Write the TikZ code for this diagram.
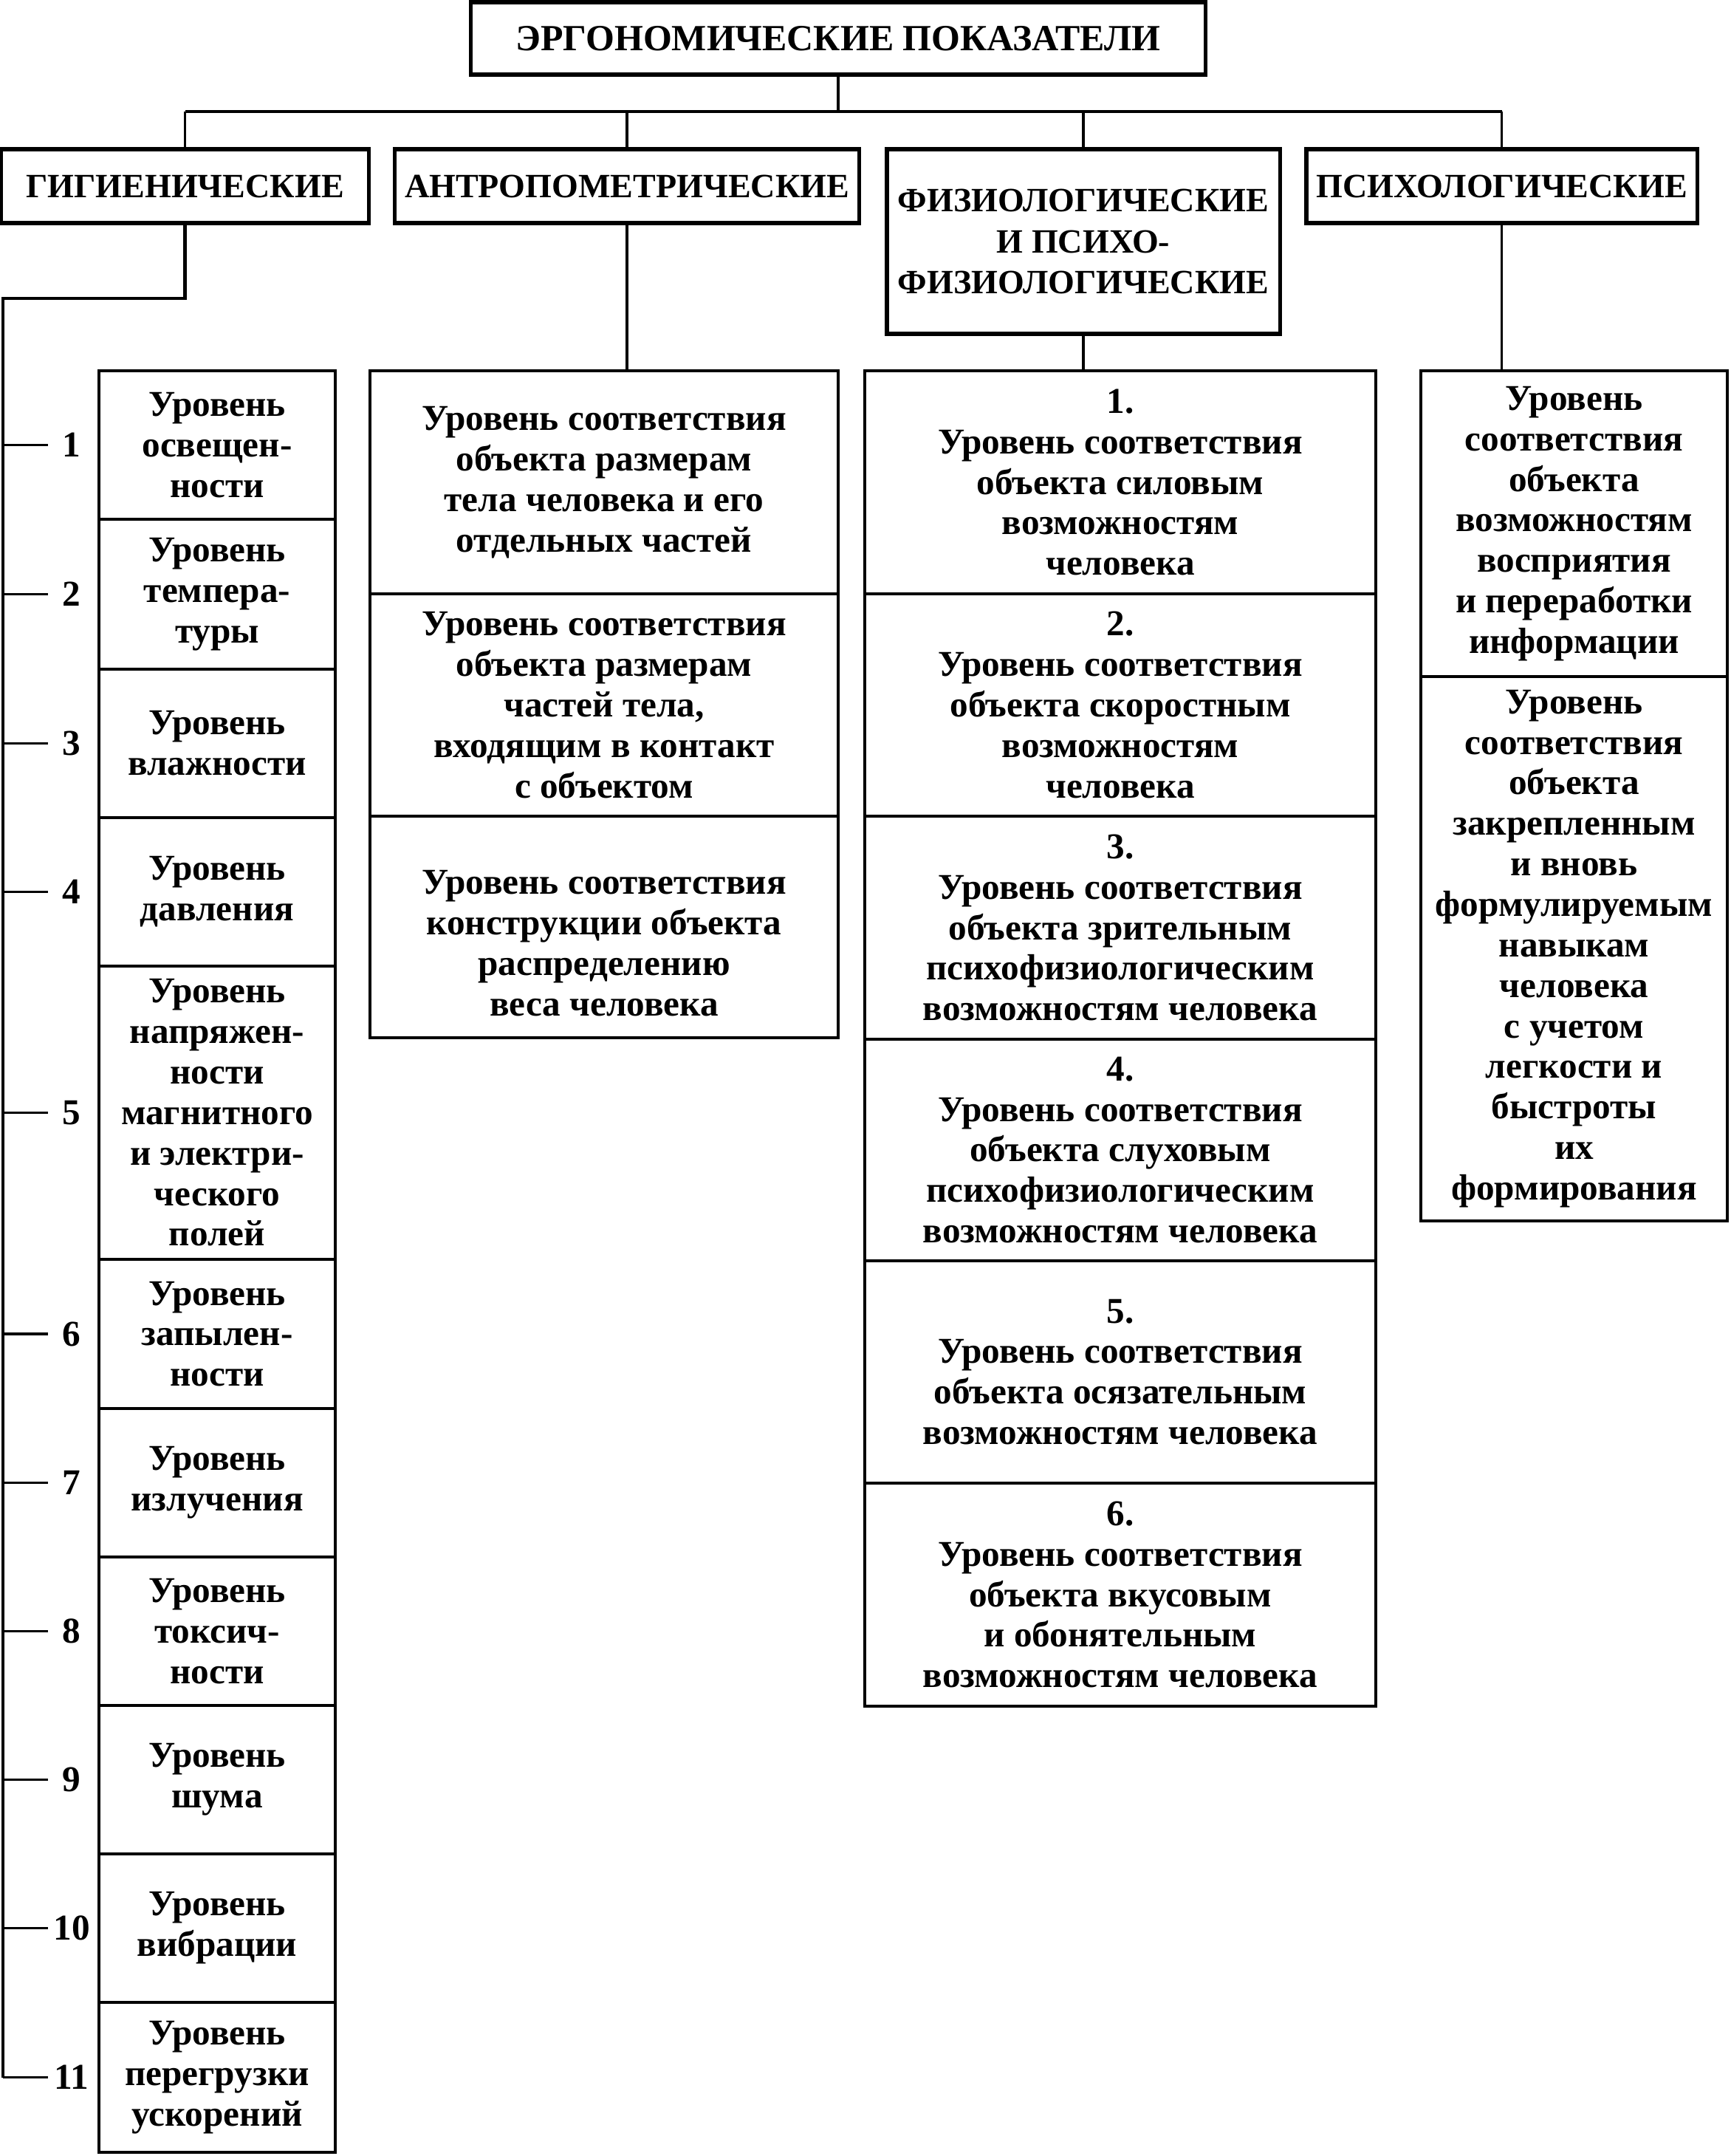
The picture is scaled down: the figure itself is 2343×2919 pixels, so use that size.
\documentclass[tikz,border=0pt]{standalone}
\usepackage{fontspec}
\setmainfont{Liberation Serif}
\begin{document}
\begin{tikzpicture}[x=0.01cm,y=-0.01cm,
  every node/.style={font=\bfseries\fontsize{14}{15.6}\selectfont, align=center, inner sep=1pt},
  hbox/.style={draw, line width=1.5pt, inner sep=0pt, font=\bfseries\fontsize{13.1}{15.8}\selectfont},
  lbox/.style={draw, line width=1.2pt, inner sep=0pt},
  conn/.style={line width=1.1pt}]
\useasboundingbox (0,0) rectangle (2343,2919);
% top
\node[hbox, minimum width=9.94cm, minimum height=0.98cm, font=\bfseries\fontsize{14.2}{16}\selectfont] (top) at (1135,52) {ЭРГОНОМИЧЕСКИЕ ПОКАЗАТЕЛИ};
% headers
\node[hbox, minimum width=4.97cm, minimum height=1.0cm] (hyg) at (250.5,252) {ГИГИЕНИЧЕСКИЕ};
\node[hbox, minimum width=6.29cm, minimum height=1.0cm] (ant) at (849,252) {АНТРОПОМЕТРИЧЕСКИЕ};
\node[hbox, minimum width=5.32cm, minimum height=2.5cm] (phy) at (1467,327) {ФИЗИОЛОГИЧЕСКИЕ\\И ПСИХО-\\ФИЗИОЛОГИЧЕСКИЕ};
\node[hbox, minimum width=5.29cm, minimum height=1.0cm] (psy) at (2033.5,252) {ПСИХОЛОГИЧЕСКИЕ};
% bus
\coordinate (busL) at (250.5,151);
\coordinate (busR) at (2033.5,151);
\draw[conn] (top.south) -- (top.south |- busL);
\draw[conn] (busL) -- (busR);
\draw[conn] (busL) -- (hyg.north);
\draw[conn] (ant.north |- busL) -- (ant.north);
\draw[conn] (phy.north |- busL) -- (phy.north);
\draw[conn] (busR) -- (psy.north);
% hygienic leaves
\foreach \n/\ya/\yb/\txt in {
 1/502/703/{Уровень\\освещен-\\ности},
 2/703/906/{Уровень\\темпера-\\туры},
 3/906/1107/{Уровень\\влажности},
 4/1107/1308/{Уровень\\давления},
 5/1308/1705/{Уровень\\напряжен-\\ности\\магнитного\\и электри-\\ческого\\полей},
 6/1705/1907/{Уровень\\запылен-\\ности},
 7/1907/2108/{Уровень\\излучения},
 8/2108/2309/{Уровень\\токсич-\\ности},
 9/2309/2510/{Уровень\\шума},
 10/2510/2711/{Уровень\\вибрации},
 11/2711/2914/{Уровень\\перегрузки\\ускорений}}{
  \pgfmathsetmacro{\h}{(\yb-\ya)/100}
  \pgfmathsetmacro{\yc}{(\ya+\yb)/2}
  \node[lbox, minimum width=3.2cm, minimum height=\h cm] (g\n) at (294,\yc) {\txt};
  \coordinate (t\n) at (4,\yc);
  \node (num\n) at (97,\yc) {\n};
  \draw[conn] (t\n) -- ++(61,0);
}
\coordinate (hb) at (4,404);
\draw[line width=1.4pt] (hyg.south) |- (hb) -- (t11);
% anthropometric leaves
\node[lbox, minimum width=6.34cm, minimum height=3.02cm] (a1) at (818,653) {Уровень соответствия\\объекта размерам\\тела человека и его\\отдельных частей};
\node[lbox, minimum width=6.34cm, minimum height=3.01cm] (a2) at (818,954.5) {Уровень соответствия\\объекта размерам\\частей тела,\\входящим в контакт\\с объектом};
\node[lbox, minimum width=6.34cm, minimum height=3.0cm] (a3) at (818,1255) {};
\node[inner sep=0pt] (a3t) at ([yshift=-0.22cm]a3.center) {Уровень соответствия\\конструкции объекта\\распределению\\веса человека};
\draw[conn] (ant.south) -- (ant.south |- a1.north);
% physiological leaves
\node[lbox, minimum width=6.92cm, minimum height=3.02cm] (p1) at (1517,653) {1.\\Уровень соответствия\\объекта силовым\\возможностям\\человека};
\node[lbox, minimum width=6.92cm, minimum height=3.01cm] (p2) at (1517,954.5) {2.\\Уровень соответствия\\объекта скоростным\\возможностям\\человека};
\node[lbox, minimum width=6.92cm, minimum height=3.02cm] (p3) at (1517,1256) {3.\\Уровень соответствия\\объекта зрительным\\психофизиологическим\\возможностям человека};
\node[lbox, minimum width=6.92cm, minimum height=3.0cm] (p4) at (1517,1557) {4.\\Уровень соответствия\\объекта слуховым\\психофизиологическим\\возможностям человека};
\node[lbox, minimum width=6.92cm, minimum height=3.01cm] (p5) at (1517,1857.5) {5.\\Уровень соответствия\\объекта осязательным\\возможностям человека};
\node[lbox, minimum width=6.92cm, minimum height=3.02cm] (p6) at (1517,2159) {6.\\Уровень соответствия\\объекта вкусовым\\и обонятельным\\возможностям человека};
\draw[conn] (phy.south) -- (phy.south |- p1.north);
% psychological leaves
\node[lbox, minimum width=4.15cm, minimum height=4.14cm] (s1) at (2131.5,709) {Уровень\\соответствия\\объекта\\возможностям\\восприятия\\и переработки\\информации};
\node[lbox, minimum width=4.15cm, minimum height=7.37cm] (s2) at (2131.5,1284.5) {Уровень\\соответствия\\объекта\\закрепленным\\и вновь\\формулируемым\\навыкам\\человека\\с учетом\\легкости и\\быстроты\\их\\формирования};
\draw[conn] (psy.south) -- (psy.south |- s1.north);
\end{tikzpicture}
\end{document}
